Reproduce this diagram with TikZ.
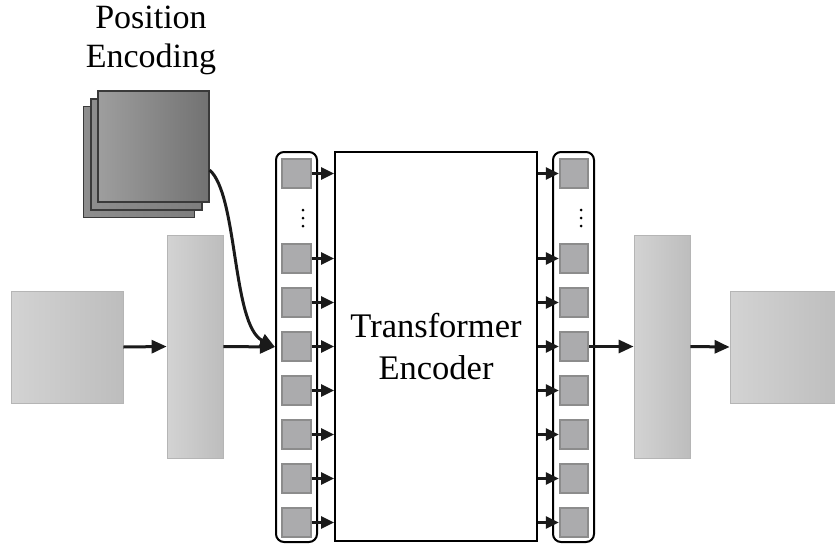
\documentclass[tikz,border=0pt]{standalone}
\usepackage{fontspec}
\setmainfont{Liberation Serif}
\usetikzlibrary{arrows.meta}
\definecolor{tokfill}{HTML}{ABABAD}
\definecolor{tokdraw}{HTML}{8C8C8C}
\definecolor{arrcol}{HTML}{1A1A1A}
\definecolor{lgA}{HTML}{D3D3D3}
\definecolor{lgB}{HTML}{BDBDBD}
\definecolor{lgD}{HTML}{B5B5B5}
\definecolor{peA}{HTML}{9E9E9E}
\definecolor{peB}{HTML}{727272}
\definecolor{peC}{HTML}{8E8E8E}
\definecolor{peD}{HTML}{7E7E7E}
\definecolor{pedraw}{HTML}{3A3A3A}
\tikzset{
  tok/.style={rectangle, minimum size=28.5pt, inner sep=0pt, fill=tokfill, draw=tokdraw, line width=1.8pt},
  arr/.style={draw=arrcol, line width=3pt, -{Triangle[length=15pt,width=13pt]}},
  sarr/.style={draw=arrcol, line width=2.8pt, -{Triangle[length=13pt,width=12pt]}},
  lgbox/.style={rectangle, inner sep=0pt, left color=lgA, right color=lgB, draw=lgD, line width=0.8pt},
  pebox/.style={rectangle, inner sep=0pt, minimum width=111pt, minimum height=111pt, draw=pedraw, line width=1.2pt},
  cont/.style={rectangle, rounded corners=8pt, draw=black, line width=2pt, minimum width=41pt, minimum height=390pt, inner sep=0pt},
  lbl/.style={inner sep=0pt, align=center, text=black}
}
\begin{document}
\begin{tikzpicture}[x=1pt, y=-1pt]
\clip (0,0) rectangle (835,544);
\fill[white] (0,0) rectangle (835,544);

% Position encoding label and stack
\node[lbl, font=\fontsize{34}{39}\selectfont] (pelabel) at (151,40.5) {Position\\Encoding};
\node[pebox, left color=peC, right color=peD] (pe3) at (139,162) {};
\node[pebox, left color=peC, right color=peD] (pe2) at (146.5,154.5) {};
\node[pebox, left color=peA, right color=peB] (pe1) at (153.5,146.5) {};

% left input box and bar
\node[lgbox, minimum width=112pt, minimum height=112pt] (inbox) at (67,347) {};
\node[lgbox, minimum width=56pt, minimum height=223pt] (inbar) at (195,346.5) {};

% containers
\node[cont] (lcont) at (296.5,347) {};
\node[cont] (rcont) at (573.5,347) {};

% transformer
\node[rectangle, draw=black, line width=2pt, minimum width=202pt, minimum height=389pt, inner sep=0pt] (trans) at (436,346.5) {};
\node[lbl, font=\fontsize{34.5}{42}\selectfont] (translabel) at (436,346.4) {Transformer\\Encoder};

% tokens
\foreach \i/\y in {1/173.5,2/258.5,3/302.5,4/346.5,5/390.5,6/434.5,7/478.5,8/522.5}{
  \node[tok] (L\i) at (296.5,\y) {};
  \node[tok] (R\i) at (574,\y) {};
  \draw[sarr] (L\i.east) -- (L\i.east -| trans.west);
  \draw[sarr] (R\i.west -| trans.east) -- (R\i.west);
}

% vertical dots
\foreach \y in {210,218,226}{
  \fill[black] (303,\y) circle (1.5pt);
  \fill[black] (581,\y) circle (1.5pt);
}

% right bar and output box
\node[lgbox, minimum width=56pt, minimum height=223pt] (outbar) at (662,346.5) {};
\node[lgbox, minimum width=112pt, minimum height=112pt] (outbox) at (786,347) {};

% arrows
\draw[arr] (inbox.east) -- (inbar.west);
\draw[arr] (inbar.east) -- (lcont.west);
\draw[arr] (R4.east) -- (outbar.west);
\draw[arr] (outbar.east) -- (outbox.west);

% position encoding curve
\coordinate (pestart) at (pe1.east |- 0,170);
\draw[arr] (pestart) .. controls (238,195) and (232,325) .. (lcont.west);
\end{tikzpicture}
\end{document}
